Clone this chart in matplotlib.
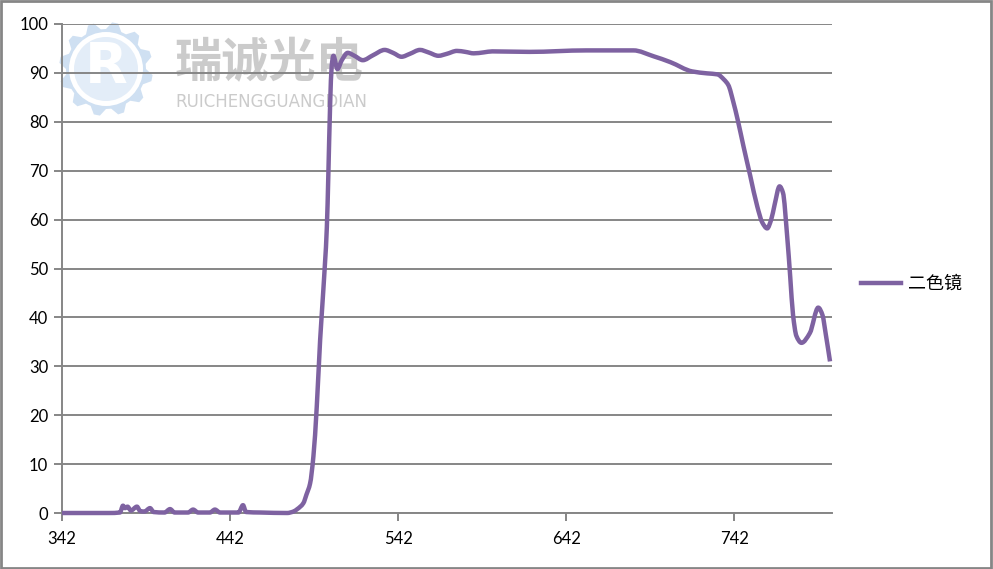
import matplotlib
matplotlib.use("Agg")
import matplotlib.pyplot as plt
from matplotlib.patches import Polygon, Rectangle, Ellipse, PathPatch
from matplotlib.path import Path
from matplotlib.lines import Line2D
import numpy as np

# ---- data ----
wavelength = [342, 370, 376.5, 378.3, 379.5, 381, 383, 386.6, 388.5, 391, 394.4, 396.5,
              403, 406.3, 409, 417, 420, 423, 430, 433, 436, 447, 449.7, 451.5, 460,
              476, 479.7, 482, 485.6, 487.5, 489.6, 491.6, 493.6, 495.6, 497.5, 499.6,
              500.5, 501.5, 502.5, 503.5, 505.9, 508.5, 512, 516, 521, 527, 534, 539,
              544, 549, 555, 560, 566, 571, 577, 582, 587, 593, 598, 620, 654, 682, 694,
              704, 717, 726, 732, 736, 738.5, 741.5, 744, 747.5, 751.5, 755.7, 758.7,
              761.6, 764, 766, 769, 771, 773.5, 775.3, 777, 779, 782, 787, 792, 794.5,
              796.5, 799]
transmittance = [0, 0, 0.1, 1.5, 1.0, 1.3, 0.5, 1.3, 0.4, 0.3, 1.0, 0.2,
                 0.1, 0.8, 0.1, 0.1, 0.7, 0.1, 0.1, 0.7, 0.1, 0.1, 1.6, 0.2, 0.1,
                 0, 0.3, 0.8, 2.0, 3.8, 6.0, 11.6, 21.8, 35.4, 45.6, 58.5,
                 69.4, 83.0, 91.5, 93.5, 90.8, 92.6, 94.1, 93.5, 92.6, 93.6, 94.7, 94.1,
                 93.3, 93.9, 94.7, 94.2, 93.5, 93.9, 94.5, 94.3, 94.0, 94.2, 94.4, 94.3, 94.6, 94.6, 93.4,
                 92.2, 90.3, 89.9, 89.7, 88.6, 87.5, 84.0, 80.5, 75.0, 69.0, 62.7, 59.4,
                 58.2, 60.0, 63.0, 66.8, 65.5, 56.6, 48.4, 40.5, 36.2, 34.8, 36.8, 42.0, 40.5,
                 36.5, 31.0]
series_name = "二色镜"
x_ticks = [342, 442, 542, 642, 742]
y_ticks = [0, 10, 20, 30, 40, 50, 60, 70, 80, 90, 100]

W, H = 993, 569
fig = plt.figure(figsize=(W / 100, H / 100), dpi=100)
fig.patch.set_facecolor("white")

grid_c = "#868686"
line_c = "#7E62A1"

ax = fig.add_axes([62 / W, (H - 513) / H, (831.7 - 62) / W, (513 - 24) / H])
ax.set_xlim(342, 800)
ax.set_ylim(0, 100)


def fx(px):
    return px / W


def fy(py):
    return (H - py) / H


# watermark (figure coords, behind data)
cx, cy, r_out, r_in = 106, 69, 47, 39
n_teeth = 12
pts = []
for i in range(n_teeth * 4):
    ang = 2 * np.pi * i / (n_teeth * 4)
    rr = r_out if (i % 4) in (1, 2) else r_in + 1
    pts.append((fx(cx + rr * np.cos(ang)), fy(cy + rr * np.sin(ang))))
fig.patches.append(Polygon(pts, closed=True, transform=fig.transFigure,
                           facecolor="#cfe0f2", edgecolor="none", zorder=0.5))
fig.patches.append(Ellipse((fx(cx), fy(cy)), 2 * 37 / W, 2 * 37 / H, transform=fig.transFigure,
                           facecolor="white", edgecolor="none", zorder=0.6))
fig.patches.append(Ellipse((fx(cx), fy(cy)), 2 * 32 / W, 2 * 32 / H, transform=fig.transFigure,
                           facecolor="#e3edf8", edgecolor="none", zorder=0.7))
fig.text(fx(cx), fy(cy - 2), "R", fontsize=40, fontweight="bold", color="white",
         ha="center", va="center", zorder=0.8, family="DejaVu Sans")
fig.text(fx(175), fy(63), "瑞诚光电", fontsize=34, fontweight="bold", color="#cbcbcb",
         ha="left", va="center", zorder=0.8, family=["Noto Sans CJK SC", "DejaVu Sans"])
fig.text(fx(175), fy(102), "RUICHENGGUANGDIAN", fontsize=12, color="#cbcbcb",
         ha="left", va="center", zorder=0.8, family="DejaVu Sans")

ax.patch.set_alpha(0)
ax.set_zorder(1)


# smooth line through the data points (monotone cubic Hermite as Bezier segments)
def smooth_path(x, y):
    x = np.asarray(x, float)
    y = np.asarray(y, float)
    h = np.diff(x)
    d = np.diff(y) / h
    n = len(x)
    m = np.zeros(n)
    for i in range(1, n - 1):
        if d[i - 1] * d[i] <= 0:
            m[i] = 0.0
        else:
            w1 = 2 * h[i] + h[i - 1]
            w2 = h[i] + 2 * h[i - 1]
            m[i] = (w1 + w2) / (w1 / d[i - 1] + w2 / d[i])
    m[0] = d[0]
    m[-1] = d[-1]
    verts = [(x[0], y[0])]
    codes = [Path.MOVETO]
    for i in range(n - 1):
        verts += [(x[i] + h[i] / 3, y[i] + m[i] * h[i] / 3),
                  (x[i + 1] - h[i] / 3, y[i + 1] - m[i + 1] * h[i] / 3),
                  (x[i + 1], y[i + 1])]
        codes += [Path.CURVE4] * 3
    return Path(verts, codes)


ax.add_patch(PathPatch(smooth_path(wavelength, transmittance), facecolor="none",
                       edgecolor=line_c, lw=3.2, joinstyle="round", capstyle="butt",
                       zorder=3, clip_on=False))

for s in ["top", "right"]:
    ax.spines[s].set_visible(False)
for s in ["left", "bottom"]:
    ax.spines[s].set_color(grid_c)
    ax.spines[s].set_linewidth(1.4)

ax.set_xticks(x_ticks)
ax.set_yticks(y_ticks)
ax.yaxis.grid(True, color=grid_c, lw=1.4)
ax.set_axisbelow(True)
ax.tick_params(axis="both", direction="out", length=6, width=1.4, color=grid_c,
               labelsize=12, labelcolor="black")
ax.tick_params(axis="x", pad=7)
ax.tick_params(axis="y", pad=4)
for lab in ax.get_xticklabels() + ax.get_yticklabels():
    lab.set_family("Lato")

handle = Line2D([], [], color=line_c, lw=3.2)
fig.legend([handle], [series_name], loc="center left",
           bbox_to_anchor=(845 / W, fy(284)), frameon=False, handlelength=2.2,
           handletextpad=0.4, prop={"family": ["Noto Sans CJK SC", "DejaVu Sans"], "size": 13})

fig.patches.append(Rectangle((0.001, 0.0015), 0.997, 0.996, transform=fig.transFigure,
                             facecolor="none", edgecolor=grid_c, lw=2.0, zorder=10))

fig.savefig("out.png", dpi=100)
